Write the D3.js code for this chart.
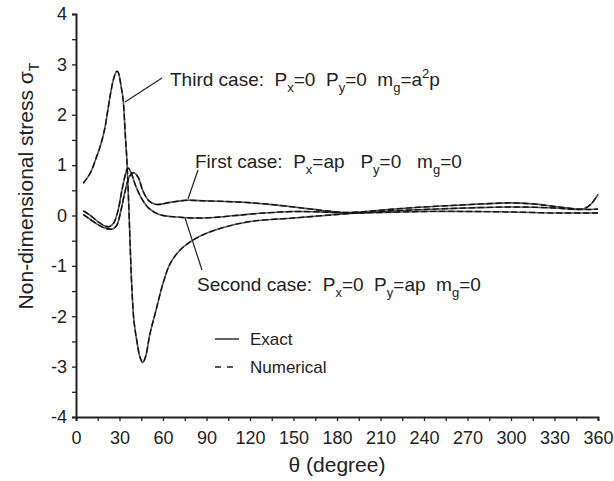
<!DOCTYPE html>
<html>
<head>
<meta charset="utf-8">
<script src="https://cdn.jsdelivr.net/npm/d3@7"></script>
<style>
body { margin: 0; background: #fff; }
svg text { font-family: "Liberation Sans", Arial, sans-serif; fill: #222; }
</style>
</head>
<body>
<div id="main-vis"></div>
<script>
// angle values (degrees) and stress for each load case
var thetaThird = [5, 10, 14, 17, 20, 22, 24, 26, 28, 29, 30, 31, 32.5, 34, 35, 36, 37, 38, 39, 40, 42, 44, 46, 48, 51, 55, 60, 65, 72, 83, 97, 120, 150, 180, 210, 240, 270, 300, 330, 345, 350, 355, 360];
var stressThird = [0.64, 0.85, 1.15, 1.4, 1.75, 2.1, 2.45, 2.72, 2.86, 2.85, 2.75, 2.58, 2.3, 1.6, 1.15, 0.5, -0.3, -1.1, -1.7, -2.1, -2.5, -2.8, -2.92, -2.8, -2.35, -1.9, -1.35, -0.95, -0.68, -0.45, -0.28, -0.12, -0.05, 0.02, 0.08, 0.12, 0.15, 0.17, 0.15, 0.12, 0.13, 0.22, 0.42];

var thetaFirst = [5, 10, 15, 20, 25, 28, 31, 34, 37, 40, 43, 46, 50, 55, 65, 75, 90, 110, 130, 150, 170, 185, 200, 220, 240, 260, 280, 300, 315, 330, 345, 355, 360];
var stressFirst = [0.02, -0.08, -0.18, -0.25, -0.27, -0.2, 0.1, 0.5, 0.78, 0.85, 0.75, 0.5, 0.3, 0.22, 0.26, 0.3, 0.29, 0.27, 0.23, 0.17, 0.1, 0.06, 0.08, 0.13, 0.17, 0.2, 0.23, 0.25, 0.23, 0.18, 0.13, 0.12, 0.13];

var thetaSecond = [5, 10, 15, 20, 23, 26, 29, 32, 35, 36, 38, 41, 45, 50, 55, 60, 70, 80, 95, 110, 130, 150, 170, 185, 210, 240, 270, 300, 330, 350, 360];
var stressSecond = [0.09, 0.0, -0.12, -0.21, -0.22, -0.15, 0.1, 0.55, 0.9, 0.94, 0.85, 0.6, 0.35, 0.15, 0.05, 0.0, -0.03, -0.05, -0.04, 0.0, 0.05, 0.08, 0.07, 0.05, 0.06, 0.08, 0.08, 0.07, 0.05, 0.05, 0.05];

var xTicks = d3.range(0, 361, 15);
var yTicks = d3.range(-4, 4.01, 0.5);

var width = 614, height = 481;

var x = d3.scaleLinear().domain([0, 360]).range([76, 598]);
var y = d3.scaleLinear().domain([-4, 4]).range([417, 14]);

var svg = d3.select("#main-vis").append("svg")
     .attr("width", width)
     .attr("height", height);

function toPoints(t, v) {
     return t.map(function (d, i) { return [d, v[i]]; });
}

var line = d3.line()
     .x(function (d) { return x(d[0]); })
     .y(function (d) { return y(d[1]); })
     .curve(d3.curveCatmullRom.alpha(0.5));

var series = [toPoints(thetaThird, stressThird), toPoints(thetaFirst, stressFirst), toPoints(thetaSecond, stressSecond)];

// exact (solid)
svg.selectAll(".exact")
     .data(series)
     .enter().append("path")
     .attr("class", "exact")
     .attr("d", line)
     .attr("fill", "none")
     .attr("stroke", "#555")
     .attr("stroke-width", 1.6);

// numerical (dashed, on top)
svg.selectAll(".num")
     .data(series)
     .enter().append("path")
     .attr("class", "num")
     .attr("d", line)
     .attr("fill", "none")
     .attr("stroke", "#111")
     .attr("stroke-width", 1.4)
     .attr("stroke-dasharray", "6,3");

// axes
var gx = svg.append("g")
     .attr("transform", "translate(0," + y(-4) + ")")
     .call(d3.axisBottom(x).tickValues(xTicks).tickSize(4).tickFormat(function (d) {
          return d % 30 === 0 ? d : "";
     }));
var gy = svg.append("g")
     .attr("transform", "translate(" + x(0) + ",0)")
     .call(d3.axisLeft(y).tickValues(yTicks).tickSize(4).tickFormat(function (d) {
          return Number.isInteger(d) ? d : "";
     }));

[gx, gy].forEach(function (g) {
     g.select(".domain").attr("stroke", "#222").attr("stroke-width", 2);
     g.selectAll(".tick line").attr("stroke", "#222").attr("stroke-width", 1.3);
     g.selectAll("text").attr("font-size", 18).attr("fill", "#222")
          .style("font-family", "'Liberation Sans', Arial, sans-serif");
});
gx.selectAll("text").attr("dy", "1.1em");
gy.selectAll("text").attr("x", -9);

// axis titles
svg.append("text")
     .attr("x", 337).attr("y", 472)
     .attr("text-anchor", "middle")
     .attr("font-size", 21)
     .text("\u03b8 (degree)");

var yt = svg.append("text")
     .attr("transform", "translate(33,186) rotate(-90)")
     .attr("text-anchor", "middle")
     .attr("font-size", 21);
yt.append("tspan").text("Non-dimensional stress \u03c3");
yt.append("tspan").attr("font-size", 14).attr("dy", 6).text("T");

// case labels with sub/superscripts
function caseLabel(px, py, parts) {
     var t = svg.append("text").attr("x", px).attr("y", py).attr("font-size", 19)
          .attr("xml:space", "preserve");
     parts.forEach(function (p) {
          var s = t.append("tspan").text(p[0]);
          if (p[1] === "sub") s.attr("font-size", 13).attr("dy", 6);
          else if (p[1] === "sup") s.attr("font-size", 13).attr("dy", -8);
          else if (p[1] === "subend") s.attr("dy", -6);
          else if (p[1] === "supend") s.attr("dy", 8);
     });
}

caseLabel(170, 86, [["Third case:  P"], ["x", "sub"], ["=0  P", "subend"], ["y", "sub"], ["=0  m", "subend"], ["g", "sub"], ["=a", "subend"], ["2", "sup"], ["p", "supend"]]);
caseLabel(195, 168, [["First case:  P"], ["x", "sub"], ["=ap   P", "subend"], ["y", "sub"], ["=0   m", "subend"], ["g", "sub"], ["=0", "subend"]]);
caseLabel(197, 291, [["Second case:  P"], ["x", "sub"], ["=0  P", "subend"], ["y", "sub"], ["=ap  m", "subend"], ["g", "sub"], ["=0", "subend"]]);

// pointer lines
var pointers = [[125, 102, 162, 78], [188, 199, 198, 170], [185, 218, 202, 270]];
svg.selectAll(".ptr")
     .data(pointers)
     .enter().append("line")
     .attr("x1", function (d) { return d[0]; })
     .attr("y1", function (d) { return d[1]; })
     .attr("x2", function (d) { return d[2]; })
     .attr("y2", function (d) { return d[3]; })
     .attr("stroke", "#222")
     .attr("stroke-width", 1.2);

// legend
svg.append("line").attr("x1", 215).attr("x2", 239).attr("y1", 339).attr("y2", 339)
     .attr("stroke", "#222").attr("stroke-width", 1.4);
svg.append("line").attr("x1", 215).attr("x2", 239).attr("y1", 367).attr("y2", 367)
     .attr("stroke", "#222").attr("stroke-width", 1.4).attr("stroke-dasharray", "6,6");
svg.append("text").attr("x", 250).attr("y", 345).attr("font-size", 17).text("Exact");
svg.append("text").attr("x", 250).attr("y", 373).attr("font-size", 17).text("Numerical");
</script>
</body>
</html>
